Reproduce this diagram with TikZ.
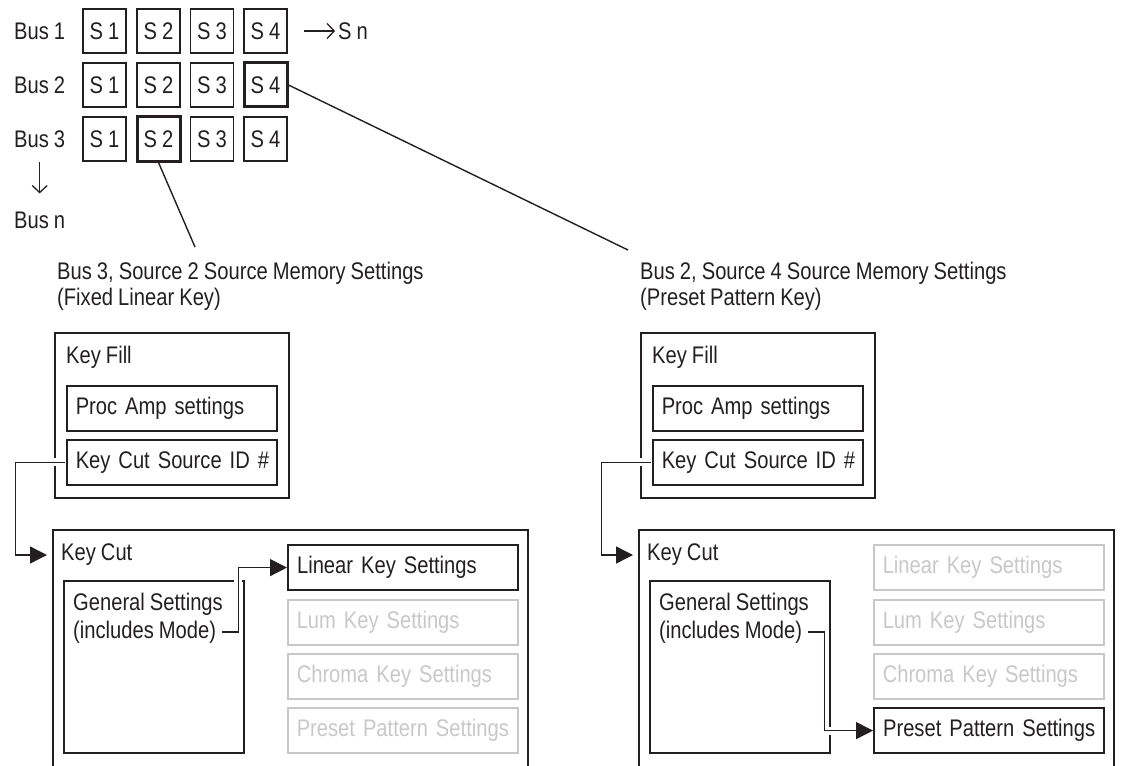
\documentclass[tikz,border=0pt]{standalone}
\usepackage{fontspec}
\setmainfont{Liberation Sans}[FakeStretch=0.84, WordSpace=0.9]
\usetikzlibrary{arrows.meta, positioning, calc}
\definecolor{inkblack}{RGB}{35,31,32}
\definecolor{dimgray}{RGB}{200,200,200}

\begin{document}
\begin{tikzpicture}[
    x=1pt, y=-1pt,
    color=inkblack,
    font=\fontsize{24}{26}\selectfont,
    src/.style={draw=inkblack, line width=1.4pt, minimum width=43pt, minimum height=44pt, inner sep=0},
    srcsel/.style={src, line width=3pt},
    lbl/.style={anchor=west, inner sep=0},
    frame/.style={draw=inkblack, line width=1.6pt, anchor=north west, inner sep=0},
    setting/.style={draw=inkblack, line width=1.5pt, anchor=north west, minimum height=45pt,
        inner xsep=9pt, inner ysep=0pt, text width=#1,
        execute at begin node={\hbox\bgroup}, execute at end node={\egroup}},
    setting/.default=192pt,
    settingon/.style={setting=#1, line width=2.2pt},
    settingon/.default=212pt,
    settingoff/.style={setting=#1, draw=dimgray, text=dimgray},
    settingoff/.default=212pt,
    barb/.style={-{Straight Barb[length=7pt, width=15pt]}, line width=1.3pt},
    pointer/.style={line width=1.4pt},
    conn/.style={-{Triangle[length=17pt, width=17pt]}, line width=1.4pt,
        preaction={draw=white, line width=8pt, -}},
]
    \useasboundingbox (0,0) rectangle (1126,765);
    \clip (0,0) rectangle (1126,765);

    % Buses and sources
    \node[lbl] (bus1) at (14,31) {Bus 1};
    \node[lbl] (bus2) at (14,85) {Bus 2};
    \node[lbl] (bus3) at (14,139) {Bus 3};
    \node[lbl] (busn) at (14,220) {Bus n};

    \node[src] (b11) at (104.5,31) {S 1};
    \node[src] (b12) at (158.5,31) {S 2};
    \node[src] (b13) at (212,31) {S 3};
    \node[src] (b14) at (265.5,31) {S 4};
    \node[src] (b21) at (104.5,85) {S 1};
    \node[src] (b22) at (158.5,85) {S 2};
    \node[src] (b23) at (212,85) {S 3};
    \node[srcsel] (b24) at (265.5,85) {S 4};
    \node[src] (b31) at (104.5,139) {S 1};
    \node[srcsel] (b32) at (158.5,139) {S 2};
    \node[src] (b33) at (212,139) {S 3};
    \node[src] (b34) at (265.5,139) {S 4};

    \node[lbl] (sn) at (338,31) {S n};
    \draw[barb] ([xshift=16pt]b14.east) -- ([xshift=-3pt]sn.west);
    \draw[barb] ([yshift=-14pt]bus3.south) -- ([yshift=18pt]busn.north);

    % Memory headers
    \node[anchor=north west, inner sep=0, align=left] (hdleft) at (57,262)
        {Bus 3, Source 2 Source Memory Settings\\(Fixed Linear Key)};
    \node[anchor=north west, inner sep=0, align=left] (hdright) at (640,262)
        {Bus 2, Source 4 Source Memory Settings\\(Preset Pattern Key)};
    \coordinate (tipleft) at (195,247);
    \coordinate (tipright) at (628,250);
    \draw[pointer] (b32.south) -- (tipleft);
    \draw[pointer] (b24.east) -- (tipright);

    % Left: Key Fill
    \node[frame, minimum width=234pt, minimum height=165pt] (kf) at (54,332) {};
    \node[lbl] (kftxt) at (66,357) {Key Fill};
    \node[setting] (proc) at (66,385) {Proc Amp settings};
    \node[setting] (kcs) at (66,439) {Key Cut Source ID \#};

    % Left: Key Cut
    \node[frame, minimum width=475pt, minimum height=300pt] (kc) at (52,529) {};
    \node[lbl] (kctxt) at (61,555) {Key Cut};
    \node[frame, line width=1.5pt, minimum width=180pt, minimum height=172pt] (gen) at (63,580) {};
    \node[lbl] (gentxt) at (73,604) {General Settings};
    \node[lbl] (genmode) at (73,632) {(includes Mode)};
    \node[settingon] (lin) at (287,544) {Linear Key Settings};
    \node[settingoff] (lum) at (287,599) {Lum Key Settings};
    \node[settingoff] (chr) at (287,653) {Chroma Key Settings};
    \node[settingoff] (pre) at (287,707) {Preset Pattern Settings};

    \coordinate (kcin) at ($(kc.north west)+(-5,26)$);
    \draw[conn] ([xshift=-0.8pt]kcs.west) -- ++(-50,0) |- (kcin);
    \draw[conn] ([xshift=6pt]genmode.east) -- ++(16,0) |- (lin.west);

    % Right: Key Fill
    \node[frame, minimum width=234pt, minimum height=165pt] (kf2) at (640,332) {};
    \node[lbl] (kftxt2) at (652,357) {Key Fill};
    \node[setting] (proc2) at (652,385) {Proc Amp settings};
    \node[setting] (kcs2) at (652,439) {Key Cut Source ID \#};

    % Right: Key Cut
    \node[frame, minimum width=475pt, minimum height=300pt] (kc2) at (638,529) {};
    \node[lbl] (kctxt2) at (647,555) {Key Cut};
    \node[frame, line width=1.5pt, minimum width=180pt, minimum height=172pt] (gen2) at (649,580) {};
    \node[lbl] (gentxt2) at (659,604) {General Settings};
    \node[lbl] (genmode2) at (659,632) {(includes Mode)};
    \node[settingoff] (lin2) at (873,544) {Linear Key Settings};
    \node[settingoff] (lum2) at (873,599) {Lum Key Settings};
    \node[settingoff] (chr2) at (873,653) {Chroma Key Settings};
    \node[settingon] (pre2) at (873,707) {Preset Pattern Settings};

    \coordinate (kcin2) at ($(kc2.north west)+(-5,26)$);
    \draw[conn] ([xshift=-0.8pt]kcs2.west) -- ++(-50,0) |- (kcin2);
    \draw[conn] ([xshift=6pt]genmode2.east) -- ++(16,0) |- (pre2.west);

\end{tikzpicture}
\end{document}
